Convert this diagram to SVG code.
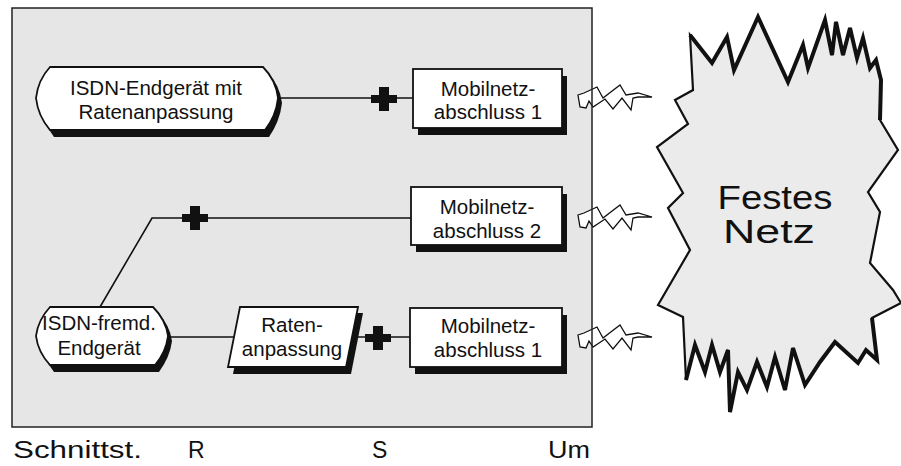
<svg xmlns="http://www.w3.org/2000/svg" width="901" height="466" viewBox="0 0 901 466">
<style>
.t{font-family:"Liberation Sans",Arial,sans-serif;font-size:20.5px;fill:#111;text-anchor:middle}
.big{font-family:"Liberation Sans",Arial,sans-serif;font-size:33px;fill:#111;text-anchor:middle}
.lab{font-family:"Liberation Sans",Arial,sans-serif;font-size:23px;fill:#111}
.box{fill:#fff;stroke:#111;stroke-width:1.8}
.sh{fill:#111}
.ln{fill:none;stroke:#111;stroke-width:1.6}
.bolt{fill:#fff;stroke:#111;stroke-width:1.3;stroke-linejoin:miter}
.thick{fill:none;stroke:#111;stroke-width:4;stroke-linejoin:miter}
</style>
<defs>
<path id="plus" d="M-13,-4 H-5 V-12 H5 V-4 H13 V4 H5 V12 H-5 V4 H-13 Z" fill="#111"/>
<polygon id="bolt" class="bolt" points="0,-2 6,-4 19,-10 25,1 42,-12 48,-2 60,-4 74,0 60,0 55,1 53,13 44,1 35,12 27,2 15,10 11,4 8,11 2,10"/>
</defs>

<rect id="frame" x="12" y="8" width="580" height="419" fill="#e6e6e6"/>

<g id="cloud">
<polygon points="690,35 712,63 727,37 734,70 758,17 788,82 803,45 808,68 825,20 832,55 836,22 843,55 850,28 857,58 863,38 870,68 876,60 881,80 880,120 898,150 868,192 880,212 870,263 893,290 901,303 872,318 877,360 866,350 858,363 835,342 820,362 805,385 793,348 785,390 775,357 767,387 757,362 747,390 738,372 730,412 728,350 720,372 712,345 705,372 695,345 686,380 683,317 658,305 690,250 668,208 683,193 657,147 688,124 675,100 693,90" fill="#ebebeb" stroke="#111" stroke-width="2.2" stroke-linejoin="miter"/>
<polyline class="thick" points="690,35 712,63 727,37 734,70 758,17 788,82 803,45 808,68 825,20 832,55 836,22 843,55 850,28 857,58 863,38 870,68 876,60 881,80 880,120"/>
<polyline class="thick" points="872,318 877,360 866,350 858,363 835,342 820,362 805,385 793,348 785,390 775,357 767,387 757,362 747,390 738,372 730,412 728,350 720,372 712,345 705,372 695,345 686,380"/>
<text class="big" x="775" y="209" textLength="115" lengthAdjust="spacingAndGlyphs">Festes</text>
<text class="big" x="769" y="243" textLength="92" lengthAdjust="spacingAndGlyphs">Netz</text>
</g>

<g id="connectors">
<line class="ln" x1="278" y1="98" x2="413" y2="98"/>
<use href="#plus" x="384" y="99"/>
<polyline class="ln" points="411,218 152,218 100,307"/>
<use href="#plus" x="195" y="218"/>
<line class="ln" x1="168" y1="337" x2="234" y2="337"/>
<line class="ln" x1="352" y1="337" x2="410" y2="337"/>
<use href="#plus" x="378" y="338"/>
<use href="#bolt" x="578" y="97"/>
<use href="#bolt" x="578" y="217"/>
<use href="#bolt" x="578" y="337"/>
</g>

<rect x="12" y="8" width="580" height="419" fill="none" stroke="#222" stroke-width="1.5"/>

<g id="n-isdn-rate">
<path class="sh" d="M54,72 H267 Q280,85 282,103 Q280,121 269,137 H54 Q42,121 40,103 Q42,85 54,72 Z"/>
<path class="box" d="M50,67 H263 Q276,80 278,98 Q276,116 265,130 H50 Q38,116 36,98 Q38,80 50,67 Z"/>
<text class="t" x="156" y="95">ISDN-Endgerät mit</text>
<text class="t" x="156" y="119">Ratenanpassung</text>
</g>

<g id="n-mob1a">
<rect class="sh" x="418" y="76" width="149" height="59"/>
<rect class="box" x="413" y="69" width="149" height="59"/>
<text class="t" x="488" y="96">Mobilnetz-</text>
<text class="t" x="488" y="119">abschluss 1</text>
</g>

<g id="n-mob2">
<rect class="sh" x="416" y="194" width="151" height="58"/>
<rect class="box" x="411" y="187" width="151" height="58"/>
<text class="t" x="487" y="214">Mobilnetz-</text>
<text class="t" x="487" y="238">abschluss 2</text>
</g>

<g id="n-isdn-fremd">
<path class="sh" d="M54,312 H157 Q170,325 172,341 Q170,357 159,372 H54 Q42,357 40,341 Q42,325 54,312 Z"/>
<path class="box" d="M50,307 H153 Q166,320 168,336 Q166,352 155,365 H50 Q38,352 36,336 Q38,320 50,307 Z"/>
<text class="t" x="99" y="330">ISDN-fremd.</text>
<text class="t" x="99" y="355">Endgerät</text>
</g>

<g id="n-raten">
<polygon class="sh" points="245,313 363,313 351,374 233,374"/>
<polygon class="box" points="240,307 358,307 346,367 228,367"/>
<text class="t" x="292" y="332">Raten-</text>
<text class="t" x="292" y="356">anpassung</text>
</g>

<g id="n-mob1b">
<rect class="sh" x="415" y="315" width="152" height="59"/>
<rect class="box" x="410" y="308" width="152" height="59"/>
<text class="t" x="488" y="333">Mobilnetz-</text>
<text class="t" x="488" y="357">abschluss 1</text>
</g>

<g id="labels">
<text class="lab" x="13" y="458" textLength="129" lengthAdjust="spacingAndGlyphs">Schnittst.</text>
<text class="lab" x="188" y="458">R</text>
<text class="lab" x="372" y="458">S</text>
<text class="lab" x="548" y="458" textLength="42" lengthAdjust="spacingAndGlyphs">Um</text>
</g>
</svg>
